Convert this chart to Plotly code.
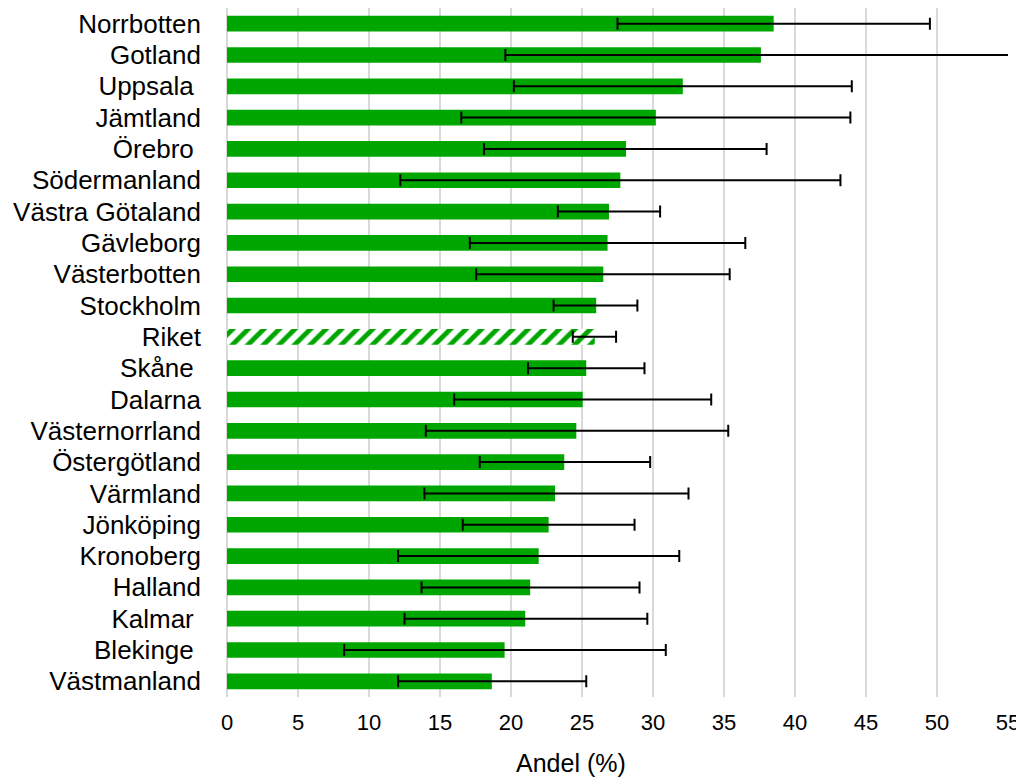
import plotly.graph_objects as go

NBSP = "\u00a0"
regions = ["Norrbotten", "Gotland", "Uppsala" + NBSP, "Jämtland", "Örebro" + NBSP,
           "Södermanland", "Västra Götaland", "Gävleborg", "Västerbotten", "Stockholm",
           "Riket", "Skåne" + NBSP, "Dalarna", "Västernorrland", "Östergötland",
           "Värmland", "Jönköping", "Kronoberg", "Halland", "Kalmar" + NBSP,
           "Blekinge" + NBSP, "Västmanland"]
values = [38.5, 37.6, 32.1, 30.2, 28.1, 27.7, 26.9, 26.8, 26.5, 26.0, 25.9,
          25.3, 25.05, 24.6, 23.75, 23.1, 22.65, 21.95, 21.35, 21.0, 19.55, 18.65]
lower = [27.5, 19.6, 20.2, 16.5, 18.1, 12.2, 23.3, 17.1, 17.55, 23.0, 24.35,
         21.2, 16.0, 14.0, 17.8, 13.9, 16.6, 12.05, 13.7, 12.5, 8.25, 12.05]
upper = [49.5, 57.0, 44.0, 43.9, 38.0, 43.2, 30.5, 36.5, 35.4, 28.9, 27.4,
         29.4, 34.1, 35.3, 29.8, 32.5, 28.7, 31.85, 29.05, 29.6, 30.9, 25.3]
x_ticks = [0, 5, 10, 15, 20, 25, 30, 35, 40, 45, 50, 55]
total_label = "Riket"
x_title = "Andel (%)"

GREEN = "#00A600"

err_plus = [u - v for u, v in zip(upper, values)]
err_minus = [v - l for v, l in zip(values, lower)]
shapes = ["/" if r == total_label else "" for r in regions]

fig = go.Figure(go.Bar(
    x=values,
    y=regions,
    orientation="h",
    width=0.5,
    marker=dict(
        color=GREEN,
        line=dict(width=0),
        pattern=dict(shape=shapes, fgcolor=GREEN, bgcolor="white",
                     size=11, solidity=0.45, fillmode="replace"),
    ),
    error_x=dict(type="data", symmetric=False, array=err_plus, arrayminus=err_minus,
                 color="black", thickness=2, width=6),
    hoverinfo="x+y",
))

fig.update_layout(
    width=1016, height=772,
    margin=dict(l=219, r=16, t=0, b=83),
    plot_bgcolor="white", paper_bgcolor="white",
    font=dict(family="Liberation Sans, Arial, sans-serif", color="black"),
    showlegend=False,
    bargap=0.5,
    annotations=[dict(
        text=x_title, xref="paper", yref="paper", x=0.4405, y=0,
        xanchor="center", yanchor="middle", yshift=-66, showarrow=False,
        borderpad=0,
        font=dict(size=25, color="black"),
    )],
)
fig.update_xaxes(
    range=[0, 55],
    tickvals=x_ticks,
    ticktext=[str(t) for t in x_ticks],
    tickfont=dict(size=22, color="black"),
    showgrid=True, gridcolor="#d9d9d9", gridwidth=1.6,
    zeroline=True, zerolinecolor="#d9d9d9", zerolinewidth=1.6,
    showline=False,
    ticks="", ticklabelstandoff=10,
    automargin=False,
    fixedrange=True,
)
fig.update_yaxes(
    categoryorder="array", categoryarray=regions,
    autorange="reversed",
    tickfont=dict(size=26, color="black"),
    ticks="", ticklabelstandoff=25,
    automargin=False,
    showgrid=False, showline=False,
    fixedrange=True,
)

fig.write_html("out.html")
